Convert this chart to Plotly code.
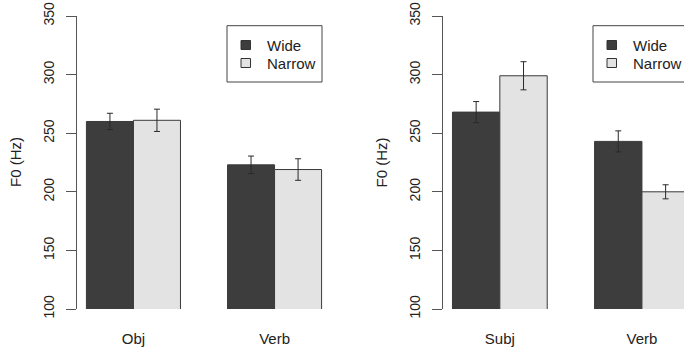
import plotly.graph_objects as go

# ---- data ----
left_categories = ["Obj", "Verb"]
left_wide = [260, 223]
left_wide_err = [7, 7.5]
left_narrow = [261, 219]
left_narrow_err = [9.5, 9.2]

right_categories = ["Subj", "Verb"]
right_wide = [268, 243]
right_wide_err = [9, 9]
right_narrow = [299, 200]
right_narrow_err = [12, 6]

series_names = ["Wide", "Narrow"]
y_ticks = [100, 150, 200, 250, 300, 350]
y_title = "F0 (Hz)"

# ---- style ----
W, H = 684, 350
DARK = "#3d3d3d"
LIGHT = "#e3e3e3"
EDGE = "#3a3a3a"
AXIS = "#555555"
FONT = "Liberation Sans, Arial, Helvetica, sans-serif"
TOP, BOT = 16, 309  # pixel rows of y=350 and y=100


def px(x):
    return x / W


def py(y):
    return (BOT - y) / (BOT - TOP)


fig = go.Figure()

panels = [
    (left_categories, left_wide, left_wide_err, left_narrow, left_narrow_err, "x", "y"),
    (right_categories, right_wide, right_wide_err, right_narrow, right_narrow_err, "x2", "y2"),
]
for cats, wv, we, nv, ne, xa, ya in panels:
    for name, vals, errs, col in [
        (series_names[0], wv, we, DARK),
        (series_names[1], nv, ne, LIGHT),
    ]:
        fig.add_trace(
            go.Bar(
                x=cats,
                y=vals,
                name=name,
                marker=dict(color=col, line=dict(color=EDGE, width=1)),
                error_y=dict(type="data", array=errs, color="#2a2a2a", thickness=1, width=3),
                xaxis=xa,
                yaxis=ya,
                showlegend=False,
            )
        )

yaxis_common = dict(
    range=[100, 350],
    tickvals=y_ticks,
    ticktext=[str(t) for t in y_ticks],
    tickangle=-90,
    ticks="outside",
    ticklen=10,
    tickwidth=1,
    tickcolor=AXIS,
    showline=True,
    linecolor=AXIS,
    linewidth=1,
    showgrid=False,
    zeroline=False,
    tickfont=dict(size=14, color="#222222", family=FONT),
    ticklabelstandoff=6,
)
xaxis_common = dict(
    type="category",
    showline=False,
    showgrid=False,
    zeroline=False,
    ticks="",
    tickfont=dict(size=15, color="#222222", family=FONT),
    ticklabelstandoff=19,
)

fig.update_layout(
    width=W,
    height=H,
    margin=dict(l=0, r=0, t=TOP, b=H - BOT, autoexpand=False),
    paper_bgcolor="white",
    plot_bgcolor="white",
    barmode="group",
    bargap=1 / 3,
    bargroupgap=0,
    showlegend=False,
    font=dict(family=FONT, color="#222222"),
    xaxis=dict(domain=[px(77), px(331)], range=[-0.4, 1.4], anchor="y", **xaxis_common),
    yaxis=dict(domain=[0, 1], anchor="x", **yaxis_common),
    xaxis2=dict(domain=[px(443), 1], range=[-0.4, 1.296], anchor="y2", **xaxis_common),
    yaxis2=dict(domain=[0, 1], anchor="x2", **yaxis_common),
)

# y-axis titles
for xc in [15.5, 381]:
    fig.add_annotation(
        x=px(xc), y=0.5, xref="paper", yref="paper",
        text=y_title, textangle=-90, showarrow=False,
        font=dict(size=15, color="#222222", family=FONT),
        xanchor="center", yanchor="middle",
    )

# legends (box, swatches, labels)
for bx in [227, 593]:
    fig.add_shape(
        type="rect", xref="paper", yref="paper",
        x0=px(bx), x1=px(bx + 95), y0=py(82), y1=py(25.7),
        line=dict(color="#444444", width=1), fillcolor="white", layer="above",
    )
    for i, (name, col) in enumerate(zip(series_names, [DARK, LIGHT])):
        cy = 45 + 18 * i
        fig.add_shape(
            type="rect", xref="paper", yref="paper",
            x0=px(bx + 14), x1=px(bx + 23.5), y0=py(cy + 4.5), y1=py(cy - 4.5),
            line=dict(color="#333333", width=1), fillcolor=col, layer="above",
        )
        fig.add_annotation(
            x=px(bx + 37.5), y=py(cy), xref="paper", yref="paper",
            text=name, showarrow=False, xanchor="left", yanchor="middle",
            font=dict(size=15, color="#222222", family=FONT),
        )

fig.write_html("out.html")
